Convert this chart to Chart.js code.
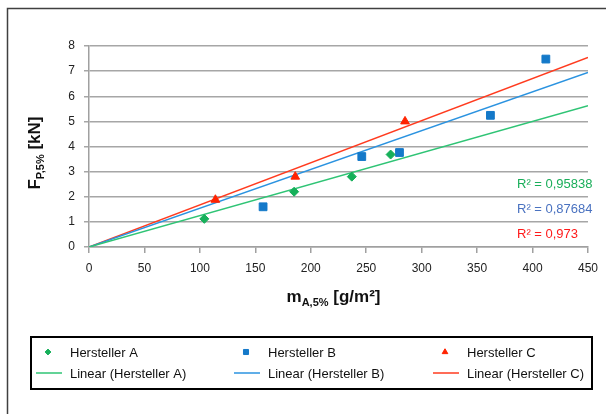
<!DOCTYPE html>
<html lang="de">
<head>
    <meta charset="UTF-8">
    <title>Hersteller A / B / C</title>
    <script src="https://cdn.jsdelivr.net/npm/chart.js@4"></script>
    <style>
        body { margin: 0; background: #fff; }
        #wrap { width: 606px; height: 414px; position: relative; }
    </style>
</head>
<body>
<div id="wrap"><canvas id="chart" width="606" height="414"></canvas></div>
<script>
    const herstellerA_x = [104, 185, 237, 272];
    const herstellerA_y = [1.12, 2.2, 2.8, 3.68];
    const herstellerB_x = [157, 246, 280, 362, 412];
    const herstellerB_y = [1.6, 3.6, 3.76, 5.24, 7.48];
    const herstellerC_x = [114, 186, 285];
    const herstellerC_y = [1.88, 2.8, 5.0];

    const serienNamen = ['Hersteller A', 'Hersteller B', 'Hersteller C'];
    const r2Texte = ['R\u00B2 = 0,95838', 'R\u00B2 = 0,87684', 'R\u00B2 = 0,973'];
    const xMax = 450;
    const yMax = 8;

    const farbePunkte = ['#16b05a', '#1479c9', '#ff2200'];
    const farbeLinie = ['#2fc475', '#2b93e0', '#ff3b1f'];
    const farbeR2 = ['#1aae5a', '#4a72c0', '#ff1a1a'];
    const punktForm = ['rectRot', 'rect', 'triangle'];
    const punktRadius = [4.5, 5.5, 5];

    // lineare Trendlinie durch den Ursprung (wie in Excel mit Schnittpunkt 0)
    function steigung(xs, ys) {
        let sxy = 0, sxx = 0;
        for (let i = 0; i < xs.length; i++) { sxy += xs[i] * ys[i]; sxx += xs[i] * xs[i]; }
        return sxy / sxx;
    }
    function punkte(xs, ys) { return xs.map((x, i) => ({ x: x, y: ys[i] })); }

    const serien = [[herstellerA_x, herstellerA_y], [herstellerB_x, herstellerB_y], [herstellerC_x, herstellerC_y]];

    const datasets = [];
    serien.forEach((s, i) => {
        const m = steigung(s[0], s[1]);
        datasets.push({
            type: 'line',
            label: 'Linear (' + serienNamen[i] + ')',
            data: [{ x: 0, y: 0 }, { x: xMax, y: m * xMax }],
            borderColor: farbeLinie[i],
            borderWidth: 1.5,
            pointRadius: 0,
            fill: false,
            order: 2
        });
    });
    serien.forEach((s, i) => {
        datasets.push({
            type: 'scatter',
            label: serienNamen[i],
            data: punkte(s[0], s[1]),
            pointStyle: punktForm[i],
            pointRadius: punktRadius[i],
            backgroundColor: farbePunkte[i],
            borderColor: farbePunkte[i],
            borderWidth: 1,
            order: 1
        });
    });

    function textMitIndex(ctx, x, y, teile, ausrichtung) {
        // teile: [[text, istIndex], ...]
        const gross = 'bold 17px "Liberation Sans", Arial, sans-serif';
        const klein = 'bold 11px "Liberation Sans", Arial, sans-serif';
        let breite = 0;
        teile.forEach(t => { ctx.font = t[1] ? klein : gross; breite += ctx.measureText(t[0]).width; });
        let cx = ausrichtung === 'center' ? x - breite / 2 : x;
        ctx.textAlign = 'left';
        ctx.textBaseline = 'alphabetic';
        teile.forEach(t => {
            ctx.font = t[1] ? klein : gross;
            ctx.fillText(t[0], cx, t[1] ? y + 4 : y);
            cx += ctx.measureText(t[0]).width;
        });
    }

    const extras = {
        id: 'extras',
        beforeDraw(chart) {
            const ctx = chart.ctx;
            ctx.save();
            ctx.fillStyle = '#fff';
            ctx.fillRect(0, 0, chart.width, chart.height);
            ctx.strokeStyle = '#404040';
            ctx.lineWidth = 1.5;
            ctx.strokeRect(7.5, 8.5, 640, 440);
            ctx.restore();
        },
        afterDraw(chart) {
            const ctx = chart.ctx;
            const a = chart.chartArea;
            ctx.save();
            ctx.fillStyle = '#111';

            // Achsentitel
            textMitIndex(ctx, (a.left + a.right) / 2 - 5, 302, [['m', false], ['A,5%', true], [' [g/m\u00B2]', false]], 'center');
            ctx.save();
            ctx.translate(40, 153);
            ctx.rotate(-Math.PI / 2);
            textMitIndex(ctx, 0, 0, [['F', false], ['P,5%', true], [' [kN]', false]], 'center');
            ctx.restore();

            // Bestimmtheitsmass
            ctx.font = '13px "Liberation Sans", Arial, sans-serif';
            ctx.textAlign = 'left';
            ctx.textBaseline = 'middle';
            r2Texte.forEach((t, i) => {
                ctx.fillStyle = farbeR2[i];
                ctx.fillText(t, 517, 184 + i * 25);
            });

            // Legende
            ctx.strokeStyle = '#000';
            ctx.lineWidth = 2;
            ctx.strokeRect(31, 337, 561, 52);
            const spalten = [70, 268, 467];
            ctx.font = '13px "Liberation Sans", Arial, sans-serif';
            serienNamen.forEach((n, i) => {
                const tx = spalten[i];
                const punkt = chart.data.datasets[3 + i];
                ctx.fillStyle = farbePunkte[i];
                ctx.strokeStyle = farbePunkte[i];
                ctx.lineWidth = 1;
                Chart.helpers.drawPoint(ctx, {
                    pointStyle: punkt.pointStyle,
                    radius: punkt.pointRadius * 0.65,
                    borderWidth: 1,
                    rotation: 0
                }, tx - 22, 352);
                ctx.fillStyle = '#111';
                ctx.fillText(n, tx, 353);

                ctx.strokeStyle = farbeLinie[i];
                ctx.lineWidth = 1.5;
                ctx.beginPath();
                ctx.moveTo(tx - 34, 373);
                ctx.lineTo(tx - 8, 373);
                ctx.stroke();
                ctx.fillText(chart.data.datasets[i].label, tx, 374);
            });
            ctx.restore();
        }
    };

    new Chart(document.getElementById('chart').getContext('2d'), {
        type: 'scatter',
        data: { datasets: datasets },
        plugins: [extras],
        options: {
            responsive: false,
            animation: false,
            layout: { padding: { left: 0, top: 46, right: 18, bottom: 0 } },
            plugins: {
                legend: { display: false },
                tooltip: { enabled: false }
            },
            scales: {
                x: {
                    type: 'linear',
                    min: 0,
                    max: xMax,
                    afterFit(s) { s.height = 167; },
                    ticks: {
                        stepSize: 50,
                        padding: 8,
                        color: '#222',
                        font: { family: '"Liberation Sans", Arial, sans-serif', size: 12 }
                    },
                    grid: {
                        drawOnChartArea: false,
                        drawTicks: true,
                        tickLength: 6,
                        color: '#a0a0a0',
                        lineWidth: 1.5
                    },
                    border: { color: '#a0a0a0', width: 1.5 }
                },
                y: {
                    min: 0,
                    max: yMax,
                    afterFit(s) { s.width = 89; },
                    ticks: {
                        stepSize: 1,
                        padding: 9,
                        color: '#222',
                        font: { family: '"Liberation Sans", Arial, sans-serif', size: 12 }
                    },
                    grid: {
                        color: '#a6a6a6',
                        lineWidth: 1.5,
                        tickLength: 5
                    },
                    border: { color: '#a0a0a0', width: 1.5 }
                }
            }
        }
    });
</script>
</body>
</html>
